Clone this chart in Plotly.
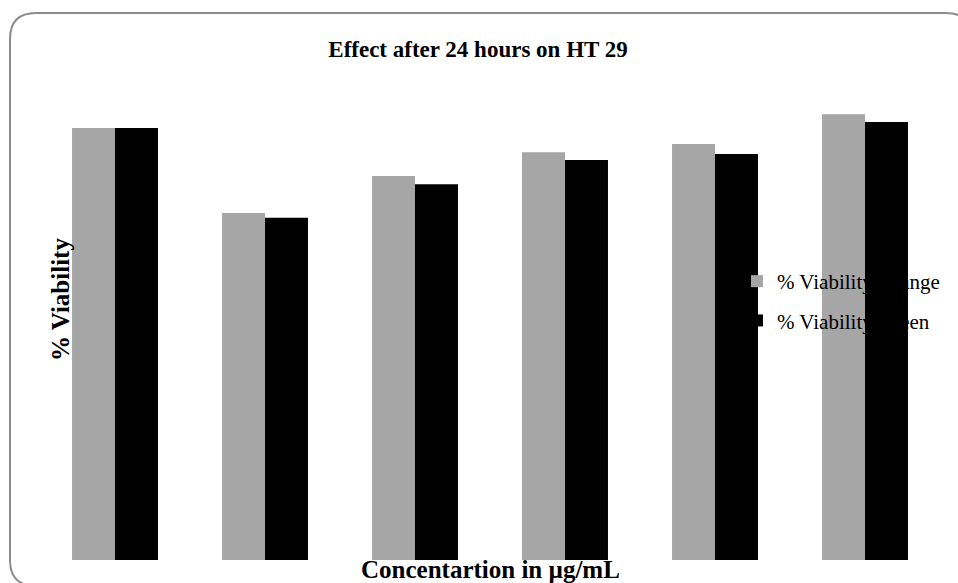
import plotly.graph_objects as go

# ---- data ----
concentrations = ["C1", "C2", "C3", "C4", "C5", "C6"]   # tick labels are not shown in the reference
viability_orange = [100.0, 80.3, 88.9, 94.4, 96.3, 103.2]
viability_green = [100.0, 79.2, 87.0, 92.6, 94.0, 101.4]
series_names = ["% Viability Orange", "% Viability Green"]
series_colors = ["#A6A6A6", "#000000"]

W, H = 958, 583
ML, MR, MT, MB = 40, 18, 80, 23
PW, PH = W - ML - MR, H - MT - MB


def px(x):
    return (x - ML) / PW


def py(y):
    return (H - MB - y) / PH


fig = go.Figure()

for i, (name, col, vals) in enumerate(zip(series_names, series_colors,
                                           [viability_orange, viability_green])):
    fig.add_trace(go.Bar(
        x=concentrations, y=vals, name=name, legendgroup=f"g{i}",
        marker=dict(color=col, line=dict(width=0))))

# rounded border
L, T, R, B, r = 10, 13, 972, 586, 26
path = (
    f"M {px(L + r)} {py(T)} L {px(R - r)} {py(T)} Q {px(R)} {py(T)} {px(R)} {py(T + r)} "
    f"L {px(R)} {py(B - r)} Q {px(R)} {py(B)} {px(R - r)} {py(B)} "
    f"L {px(L + r)} {py(B)} Q {px(L)} {py(B)} {px(L)} {py(B - r)} "
    f"L {px(L)} {py(T + r)} Q {px(L)} {py(T)} {px(L + r)} {py(T)} Z"
)

fig.update_layout(
    width=W, height=H,
    margin=dict(l=ML, r=MR, t=MT, b=MB, pad=0, autoexpand=False),
    paper_bgcolor="white", plot_bgcolor="white",
    barmode="group", bargap=0.427, bargroupgap=0,
    font=dict(family="Liberation Serif", color="#000000"),
    title=dict(text="Effect after 24 hours on HT 29",
               font=dict(family="Liberation Serif", size=23, weight="bold", color="#000000"),
               x=px(478), xanchor="center", xref="paper",
               y=1 - 49 / H, yanchor="middle", yref="container"),
    showlegend=True,
    legend=dict(x=px(737), xanchor="left", xref="paper",
                y=py(261), yanchor="top", yref="paper",
                bgcolor="rgba(0,0,0,0)", borderwidth=0,
                traceorder="grouped", tracegroupgap=9,
                font=dict(family="Liberation Serif", size=21, color="#000000")),
    xaxis=dict(type="category", range=[-0.5, 5.5],
               showticklabels=False, showgrid=False, zeroline=False,
               showline=False, ticks=""),
    yaxis=dict(range=[0, 111.11], showticklabels=False,
               showgrid=False, zeroline=False, showline=False, ticks=""),
    shapes=[dict(type="path", path=path, xref="paper", yref="paper",
                 line=dict(color="#8C8C8C", width=2), fillcolor="rgba(0,0,0,0)",
                 layer="below")],
    annotations=[
        dict(text="Concentartion in µg/mL", xref="paper", yref="paper",
             x=px(490), y=py(569), xanchor="center", yanchor="middle",
             showarrow=False,
             font=dict(family="Liberation Serif", size=25, weight="bold", color="#000000")),
        dict(text="% Viability", xref="paper", yref="paper",
             x=px(60), y=py(300), xanchor="center", yanchor="middle",
             textangle=-90, showarrow=False,
             font=dict(family="Liberation Serif", size=25, weight="bold", color="#000000")),
    ],
)

fig.write_html("out.html")
